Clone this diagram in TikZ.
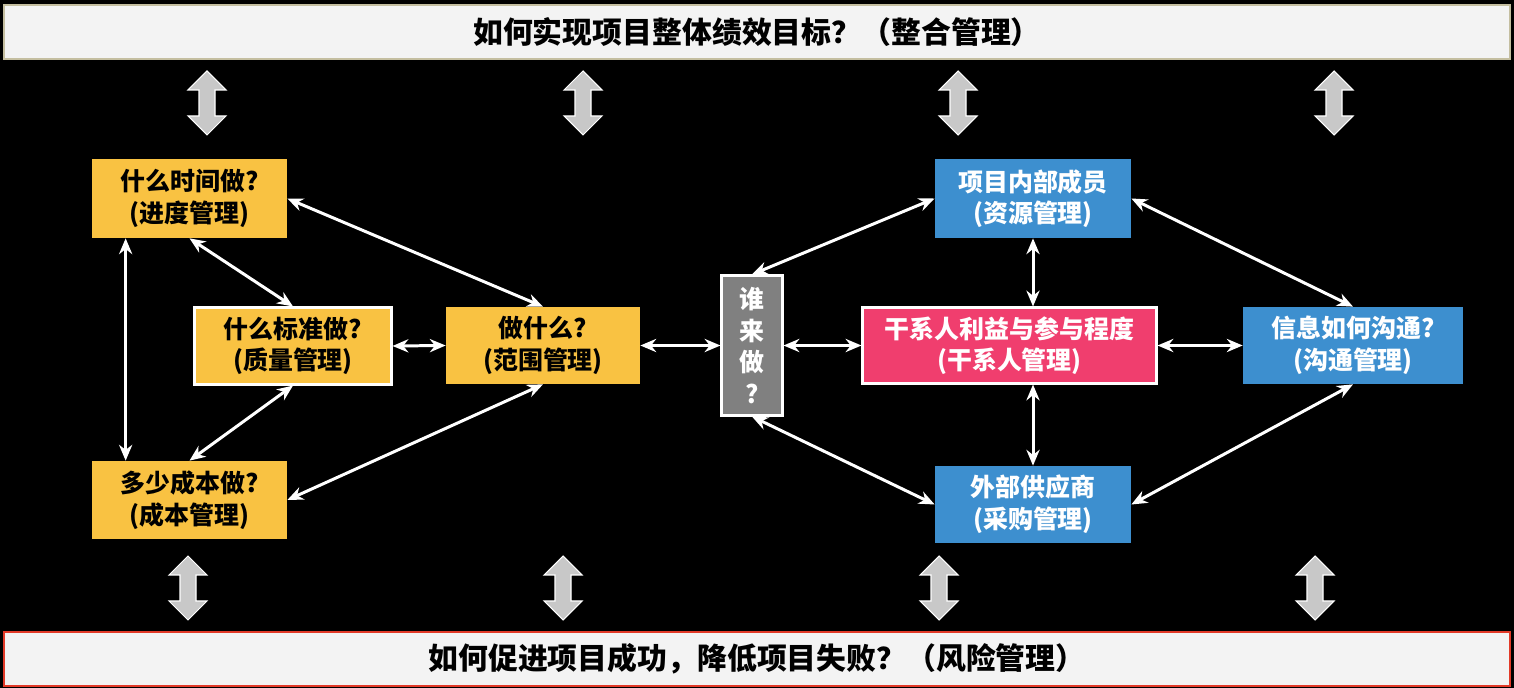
\documentclass[tikz,border=0pt]{standalone}
\usepackage{fontspec}
\newfontfamily\cjk{Noto Sans CJK SC}
\usetikzlibrary{arrows.meta,calc}
\definecolor{ylw}{RGB}{249,194,66}
\definecolor{blu}{RGB}{61,143,207}
\definecolor{pnk}{RGB}{240,62,110}
\definecolor{gry}{RGB}{128,128,128}
\definecolor{barfill}{RGB}{243,243,243}
\definecolor{barline}{RGB}{196,190,160}
\definecolor{riskline}{RGB}{226,58,40}
\definecolor{udfill}{RGB}{200,200,200}
\newcommand\udarrow[3]{% cx, ytop, ybottom
  \filldraw[fill=udfill,draw=white,line width=0.6pt]
    (#1,#2) -- ++(19,19) -- ++(-11,0) -- (#1+8,#3-19) -- ++(11,0) -- (#1,#3)
    -- ++(-19,-19) -- ++(11,0) -- (#1-8,#2+19) -- ++(-11,0) -- cycle;}
\begin{document}
\begin{tikzpicture}[x=0.02cm,y=-0.02cm,
  every node/.style={font=\cjk\bfseries\fontsize{14.2pt}{18pt}\selectfont, align=center, inner sep=0pt},
  box/.style={rectangle},
  ybox/.style={box, fill=ylw, text=black},
  bbox/.style={box, fill=blu, text=white},
  bar/.style={box, fill=barfill, line width=1.6pt, font=\cjk\bfseries\fontsize{17pt}{20pt}\selectfont},
  link/.style={draw=white, line width=1.7pt, {Stealth[length=9pt,width=7.5pt]}-{Stealth[length=9pt,width=7.5pt]}}]
\fill[black] (0,0) rectangle (1514,688);
\useasboundingbox (0,0) rectangle (1514,688);

\node[bar, draw=barline, minimum width=1506*0.02cm, minimum height=54*0.02cm] (top) at (757,32) {如何实现项目整体绩效目标？（整合管理）};
\node[bar, draw=riskline, minimum width=1506*0.02cm, minimum height=54*0.02cm] (bot) at (757,659) {如何促进项目成功，降低项目失败？（风险管理）};

\udarrow{207}{71}{135}
\udarrow{583}{71}{135}
\udarrow{958}{71}{135}
\udarrow{1334}{71}{135}
\udarrow{188}{556}{620}
\udarrow{563}{556}{620}
\udarrow{939}{556}{620}
\udarrow{1315}{556}{620}

\node[ybox, minimum width=195*0.02cm, minimum height=79*0.02cm] (sched) at (189.5,198.5) {什么时间做?\\(进度管理)};
\node[ybox, draw=white, line width=1.2pt, minimum width=197*0.02cm, minimum height=77*0.02cm] (qual) at (293,346) {什么标准做?\\(质量管理)};
\node[ybox, minimum width=194*0.02cm, minimum height=77*0.02cm] (scope) at (543,345.5) {做什么?\\(范围管理)};
\node[ybox, minimum width=195*0.02cm, minimum height=78*0.02cm] (cost) at (189.5,500) {多少成本做?\\(成本管理)};
\node[box, fill=gry, draw=white, line width=1.2pt, text=white, minimum width=61*0.02cm, minimum height=140*0.02cm] (who) at (752,345.5) {谁\\来\\做\\?};
\node[box, fill=pnk, draw=white, line width=1.2pt, text=white, minimum width=294*0.02cm, minimum height=76*0.02cm] (stake) at (1009.5,345.5) {干系人利益与参与程度\\(干系人管理)};
\node[bbox, minimum width=196*0.02cm, minimum height=79*0.02cm] (intl) at (1033,198.5) {项目内部成员\\(资源管理)};
\node[bbox, minimum width=196*0.02cm, minimum height=77*0.02cm] (ext) at (1033,504.5) {外部供应商\\(采购管理)};
\node[bbox, minimum width=220*0.02cm, minimum height=77*0.02cm] (comm) at (1353,345.5) {信息如何沟通?\\(沟通管理)};

\draw[link] ($(sched.south west)+(34,0)$) -- ($(cost.north west)+(34,0)$);
\draw[link] (sched.south) -- (qual.north);
\draw[link] (sched.east) -- (scope.north);
\draw[link] (qual.east) -- (scope.west);
\draw[link] (qual.south) -- (cost.north);
\draw[link] (scope.south) -- (cost.east);
\draw[link] (scope.east) -- (who.west);
\draw[link] (who.east) -- (stake.west);
\draw[link] (who.north) -- (intl.west);
\draw[link] (who.south) -- (ext.west);
\draw[link] (intl.south) -- (intl.south |- stake.north);
\draw[link] (ext.north |- stake.south) -- (ext.north);
\draw[link] (stake.east) -- (comm.west);
\draw[link] (intl.east) -- (comm.north);
\draw[link] (ext.east) -- (comm.south);
\end{tikzpicture}
\end{document}
